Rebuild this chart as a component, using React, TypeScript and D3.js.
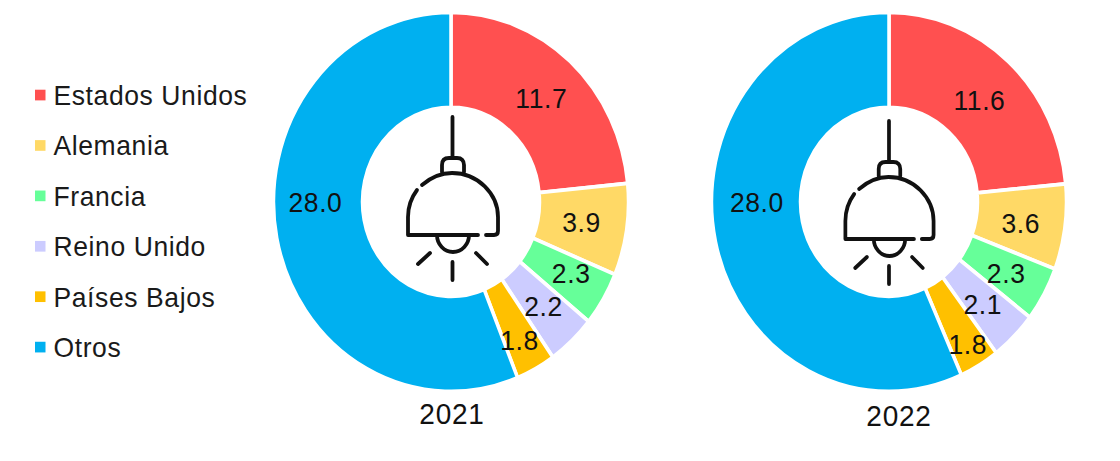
import React from "react";
import * as d3 from "d3";

const categories = ["Estados Unidos", "Alemania", "Francia", "Reino Unido", "Países Bajos", "Otros"];
const colors = ["#FF5050", "#FFD966", "#66FF99", "#CCCCFF", "#FFC000", "#00B0F0"];
const years = ["2021", "2022"];
const values2021 = [11.7, 3.9, 2.3, 2.2, 1.8, 28.0];
const values2022 = [11.6, 3.6, 2.3, 2.1, 1.8, 28.0];
const seriesByYear = [values2021, values2022];

const width = 1120;
const height = 461;
const font = "'Liberation Sans', Arial, sans-serif";

// the source picture was stretched a little vertically
const stretchY = 1.068;
const cy = 189;
const outerRadius = 177.5;
const innerRadius = 88.5;

const x = d3.scalePoint<string>().domain(years).range([451, 889]);
const legendY = d3.scalePoint<string>().domain(categories).range([89, 325]);
const color = d3.scaleOrdinal<string, string>().domain(categories).range(colors);

const pie = d3.pie<number>().sort(null);
const arc = d3.arc<d3.PieArcDatum<number>>().innerRadius(innerRadius).outerRadius(outerRadius);

// hand tweaks of the data labels away from the slice centroid
const labelNudges = [
  [[1, 1], [-1, -1], [6, -2], [2, 0], [5, 13], [-5, -27]],
  [[1, 3], [0, 2], [1, 2], [0, 1], [11, 20], [-2, -29]],
];
const yearNudges = [
  [1, -2],
  [10, 0],
];

// lamp icon, drawn around the middle of the hole
const lampPaths = [
  "M0.5 -85 V-44",
  "M-10 -30 V-37 Q-10 -44 -3 -44 H5 Q12 -44 12 -37 V-30",
  "M-30 -17 Q-16 -29 0 -29 C26 -29 46 -8 46 15 V29 Q46 33 42 33 H34",
  "M-35 -12 C-41 -4 -44 5 -44 15 V33 H26",
  "M-15 33 A16 17 0 0 0 17 33",
  "M-34 62 L-22 51",
  "M0.5 60 V78",
  "M24 51 L35 62",
];
const lampTransforms = ["translate(452 202)", "translate(888.5 206) scale(0.98 1)"];

const App = () => {
  return (
    <svg
      width={width}
      height={height}
      viewBox={`0 0 ${width} ${height}`}
      style={{ position: "absolute", left: 0, top: 0, background: "#fff" }}
      fontFamily={font}
    >
      <g transform={`scale(1 ${stretchY})`}>
        {/* legend */}
        {categories.map((c) => (
          <g key={c} transform={`translate(0 ${legendY(c)})`}>
            <rect x={35} y={-5} width={10.5} height={10} fill={color(c)} />
            <text x={53.5} y={0} dy="0.35em" fontSize={26.5} letterSpacing={0.6} fill="#1a1a1a">
              {c}
            </text>
          </g>
        ))}

        {/* donuts */}
        {years.map((year, yi) => {
          const arcs = pie(seriesByYear[yi]);
          return (
            <g key={year} transform={`translate(${x(year)} ${cy})`}>
              {arcs.map((d, i) => (
                <path
                  key={categories[i]}
                  d={arc(d) ?? ""}
                  fill={colors[i]}
                  stroke="#fff"
                  strokeWidth={3.5}
                />
              ))}
              {arcs.map((d, i) => {
                const [lx, ly] = arc.centroid(d);
                const [nx, ny] = labelNudges[yi][i];
                return (
                  <text
                    key={categories[i]}
                    x={lx + nx}
                    y={ly + ny / stretchY}
                    dy="0.35em"
                    textAnchor="middle"
                    fontSize={26.5}
                    letterSpacing={0.6}
                    fill="#111"
                  >
                    {d3.format(".1f")(d.data)}
                  </text>
                );
              })}
              <text
                x={yearNudges[yi][0]}
                y={outerRadius + 23 + yearNudges[yi][1]}
                dy="0.35em"
                textAnchor="middle"
                fontSize={28}
                letterSpacing={0.8}
                fill="#111"
              >
                {year}
              </text>
            </g>
          );
        })}
      </g>

      {/* the icon is not stretched, it was traced in picture pixels */}
      {lampTransforms.map((t) => (
        <g
          key={t}
          transform={t}
          fill="none"
          stroke="#111"
          strokeWidth={3.8}
          strokeLinecap="round"
          strokeLinejoin="round"
        >
          {lampPaths.map((p, i) => (
            <path key={i} d={p} />
          ))}
        </g>
      ))}
    </svg>
  );
};

export default App;
